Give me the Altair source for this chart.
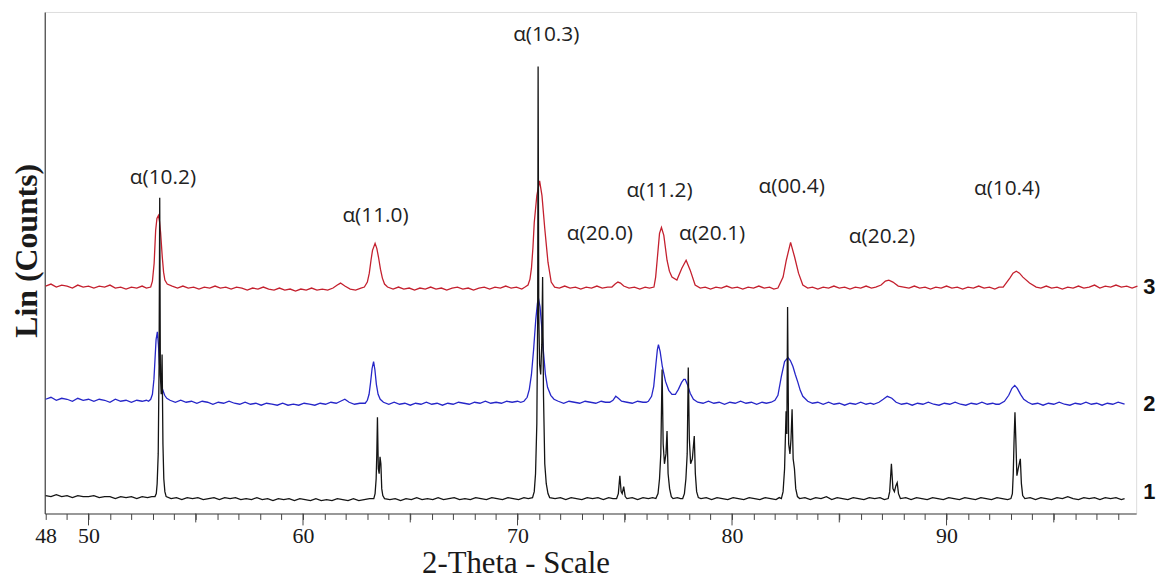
import altair as alt
import pandas as pd

# ---- values: (2-theta, counts in arbitrary units) ----
SAMPLE_1 = [(48.00,18),(48.25,17),(48.50,19),(48.75,17),(49.00,18),(49.25,16),(49.50,18),(49.75,17),(50.00,17),(50.25,18),(50.50,16),(50.75,17),(51.00,17),(51.25,15),(51.50,17),(51.75,16),(52.00,17),(52.25,15),(52.50,17),(52.75,16),(52.95,17),
(53.10,17),(53.16,20),(53.20,30),(53.25,60),(53.29,150),(53.32,318),(53.35,140),(53.39,120),(53.43,160),(53.47,70),(53.51,35),(53.56,22),(53.62,17),
(53.85,15),(54.10,16),(54.35,14),(54.60,16),(54.85,15),(55.10,16),(55.35,14),(55.60,15),(55.85,16),(56.10,14),(56.35,16),(56.60,15),(56.85,16),(57.10,14),(57.35,15),(57.60,14),(57.85,16),(58.10,14),(58.35,15),(58.60,13),(58.85,15),(59.10,14),(59.35,15),(59.60,13),(59.85,15),(60.10,14),(60.35,13),(60.60,15),(60.85,13),(61.10,14),(61.35,13),(61.60,15),(61.85,14),(62.10,13),(62.35,15),(62.60,13),(62.85,14),(63.10,15),
(63.30,15),(63.36,20),(63.41,35),(63.44,60),(63.47,97),(63.51,45),(63.55,40),(63.59,57),(63.63,50),(63.67,25),(63.72,18),(63.80,15),
(64.05,14),(64.30,15),(64.55,13),(64.80,15),(65.05,14),(65.30,16),(65.55,14),(65.80,15),(66.05,14),(66.30,16),(66.55,14),(66.80,15),(67.05,16),(67.30,14),(67.55,15),(67.80,14),(68.05,16),(68.30,15),(68.55,14),(68.80,16),(69.05,15),(69.30,14),(69.55,16),(69.80,15),(70.05,14),(70.30,16),(70.50,15),
(70.70,16),(70.78,22),(70.84,40),(70.90,90),(70.94,200),(70.96,450),(70.99,200),(71.03,150),(71.08,140),(71.13,170),(71.17,238),(71.21,120),(71.27,50),(71.34,30),(71.42,20),(71.50,16),
(71.75,15),(72.00,16),(72.25,14),(72.50,16),(72.75,15),(73.00,14),(73.25,16),(73.50,15),(73.75,16),(74.00,14),(74.25,16),(74.45,15),
(74.62,15),(74.70,20),(74.77,38),(74.83,22),(74.88,20),(74.95,27),(75.02,17),(75.10,15),
(75.35,16),(75.60,14),(75.85,16),(76.10,15),(76.30,16),
(76.45,15),(76.55,20),(76.62,35),(76.68,60),(76.74,145),(76.79,70),(76.85,50),(76.92,60),(76.97,83),(77.02,40),(77.09,25),(77.17,17),(77.25,15),
(77.45,16),(77.60,15),
(77.70,15),(77.78,20),(77.85,35),(77.91,60),(77.96,147),(78.01,75),(78.07,50),(78.15,55),(78.24,78),(78.29,40),(78.35,22),(78.43,16),(78.55,15),
(78.80,16),(79.05,14),(79.30,16),(79.55,15),(79.80,14),(80.05,16),(80.30,15),(80.55,14),(80.80,16),(81.05,15),(81.30,14),(81.55,16),(81.80,15),(82.05,14),(82.20,16),
(82.30,15),(82.38,22),(82.45,45),(82.52,103),(82.555,80),(82.59,208),(82.64,70),(82.70,60),(82.75,75),(82.80,105),(82.85,55),(82.91,45),(82.97,25),(83.05,17),(83.15,15),
(83.40,16),(83.65,14),(83.90,16),(84.15,15),(84.40,17),(84.65,14),(84.90,16),(85.15,15),(85.40,14),(85.65,16),(85.90,15),(86.15,14),(86.40,16),(86.65,15),(86.90,16),(87.10,14),
(87.28,15),(87.35,22),(87.43,50),(87.50,25),(87.57,22),(87.64,28),(87.70,31),(87.76,20),(87.85,15),
(88.10,16),(88.35,14),(88.60,16),(88.85,15),(89.10,14),(89.35,16),(89.60,15),(89.85,14),(90.10,16),(90.35,15),(90.60,14),(90.85,16),(91.10,15),(91.35,14),(91.60,16),(91.85,15),(92.10,14),(92.35,16),(92.60,15),(92.85,14),
(93.00,15),(93.07,20),(93.11,40),(93.15,75),(93.19,102),(93.23,75),(93.28,38),(93.34,45),(93.44,55),(93.49,30),(93.55,18),(93.65,15),
(93.90,16),(94.15,14),(94.40,16),(94.65,15),(94.90,14),(95.15,16),(95.40,15),(95.65,17),(95.90,15),(96.15,14),(96.40,16),(96.65,15),(96.90,16),(97.15,14),(97.40,16),(97.65,15),(97.90,16),(98.15,14),(98.30,15)]

SAMPLE_2 = [(48.00,115),(48.25,117),(48.50,114),(48.75,116),(49.00,115),(49.25,113),(49.50,116),(49.75,114),(50.00,115),(50.25,113),(50.50,115),(50.75,114),(51.00,112),(51.25,115),(51.50,113),(51.75,114),(52.00,112),(52.25,114),(52.50,113),(52.70,114),
(52.80,113),(52.90,115),(52.98,120),(53.05,135),(53.10,155),(53.15,175),(53.21,183),(53.26,170),(53.31,150),(53.37,135),(53.45,125),(53.55,119),(53.65,116),(53.80,114),
(54.05,112),(54.30,114),(54.55,112),(54.80,113),(55.05,111),(55.30,113),(55.55,112),(55.80,110),(56.05,112),(56.30,111),(56.55,113),(56.80,111),(57.05,110),(57.30,112),(57.55,110),(57.80,111),(58.05,109),(58.30,111),(58.55,110),(58.80,109),(59.05,111),(59.30,109),(59.55,110),(59.80,109),(60.05,111),(60.30,110),(60.55,109),(60.80,111),(61.05,110),(61.30,112),(61.55,111),(61.75,113),(61.95,115),(62.15,112),(62.40,110),(62.65,111),
(62.90,111),(63.00,114),(63.08,120),(63.15,132),(63.22,146),(63.29,153),(63.35,145),(63.42,130),(63.50,120),(63.60,115),(63.75,112),
(64.00,110),(64.25,112),(64.50,110),(64.75,111),(65.00,109),(65.25,111),(65.50,110),(65.75,112),(66.00,110),(66.25,111),(66.50,109),(66.75,111),(67.00,110),(67.25,112),(67.50,111),(67.75,110),(68.00,112),(68.25,111),(68.50,113),(68.75,111),(69.00,112),(69.25,111),(69.50,113),(69.75,112),(70.00,113),(70.15,112),
(70.30,113),(70.45,117),(70.55,125),(70.65,140),(70.75,165),(70.85,195),(70.93,212),(70.99,215),(71.05,208),(71.12,190),(71.20,165),(71.30,140),(71.40,127),(71.55,119),(71.70,115),(71.90,113),
(72.15,111),(72.40,113),(72.65,112),(72.90,111),(73.15,113),(73.40,112),(73.65,111),(73.90,113),(74.10,112),
(74.30,112),(74.45,114),(74.58,118),(74.70,116),(74.85,113),
(75.10,112),(75.35,111),(75.60,113),(75.85,112),(76.00,112),
(76.10,113),(76.25,118),(76.35,128),(76.45,150),(76.52,165),(76.57,170),(76.65,163),(76.75,148),(76.90,133),(77.05,124),(77.20,120),(77.36,120),(77.50,125),(77.65,132),(77.75,135),(77.82,135),(77.92,130),(78.05,121),(78.20,115),(78.40,112),
(78.65,111),(78.90,113),(79.15,111),(79.40,112),(79.65,110),(79.90,112),(80.15,111),(80.40,113),(80.65,111),(80.90,112),(81.15,110),(81.40,112),(81.60,111),
(81.83,112),(82.00,114),(82.14,119),(82.30,138),(82.45,153),(82.61,157),(82.72,154),(82.84,148),(82.95,140),(83.07,132),(83.18,124),(83.30,118),(83.53,113),
(83.75,111),(84.00,112),(84.25,110),(84.50,112),(84.75,110),(85.00,111),(85.25,109),(85.50,111),(85.75,110),(86.00,112),(86.25,110),(86.45,111),
(86.60,110),(86.85,112),(87.05,115),(87.24,118),(87.45,116),(87.65,112),(87.90,110),
(88.15,111),(88.40,109),(88.65,111),(88.90,110),(89.15,112),(89.40,110),(89.65,109),(89.90,111),(90.15,110),(90.40,112),(90.65,110),(90.90,109),(91.15,111),(91.40,110),(91.65,112),(91.90,110),(92.15,111),(92.30,110),
(92.45,110),(92.70,113),(92.90,119),(93.05,126),(93.18,129),(93.30,126),(93.45,120),(93.60,115),(93.80,112),(94.00,110),
(94.25,111),(94.50,109),(94.75,111),(95.00,110),(95.25,112),(95.50,110),(95.75,109),(96.00,111),(96.25,110),(96.50,112),(96.75,110),(97.00,111),(97.25,109),(97.50,111),(97.75,110),(98.00,112),(98.30,110)]

SAMPLE_3 = [(48.00,229),(48.25,231),(48.50,228),(48.75,230),(49.00,229),(49.25,227),(49.50,230),(49.75,228),(50.00,229),(50.25,227),(50.50,229),(50.75,228),(51.00,230),(51.25,227),(51.50,228),(51.75,226),(52.00,228),(52.25,227),(52.50,229),(52.70,227),
(52.90,228),(52.98,234),(53.06,252),(53.13,285),(53.19,297),(53.26,300),(53.31,294),(53.36,283),(53.44,258),(53.50,243),(53.56,235),(53.67,231),
(53.90,229),(54.15,227),(54.40,229),(54.65,227),(54.90,228),(55.15,226),(55.40,228),(55.65,227),(55.90,229),(56.15,227),(56.40,228),(56.65,226),(56.90,228),(57.15,227),(57.40,225),(57.65,227),(57.90,226),(58.15,228),(58.40,226),(58.65,225),(58.90,227),(59.15,225),(59.40,226),(59.65,224),(59.90,226),(60.15,225),(60.40,227),(60.65,225),(60.90,226),(61.15,225),(61.40,227),(61.60,230),(61.75,232),(61.95,229),(62.20,226),(62.45,225),(62.70,227),
(62.86,228),(63.00,233),(63.09,242),(63.17,255),(63.24,265),(63.36,272),(63.44,267),(63.52,258),(63.61,246),(63.70,237),(63.80,231),(63.94,228),
(64.20,226),(64.45,228),(64.70,226),(64.95,227),(65.20,225),(65.45,227),(65.70,226),(65.95,228),(66.20,226),(66.45,227),(66.70,225),(66.95,227),(67.20,228),(67.45,226),(67.70,227),(67.95,225),(68.20,227),(68.45,228),(68.70,226),(68.95,228),(69.20,227),(69.45,229),(69.70,227),(69.95,228),(70.20,226),(70.35,228),
(70.49,230),(70.58,236),(70.65,247),(70.72,268),(70.78,293),(70.90,320),(71.03,335),(71.14,320),(71.27,287),(71.42,253),(71.57,233),(71.73,228),
(71.95,227),(72.20,229),(72.45,227),(72.70,228),(72.95,226),(73.20,228),(73.45,227),(73.70,229),(73.95,227),(74.20,228),
(74.40,228),(74.55,231),(74.68,233),(74.80,232),(74.95,229),
(75.20,227),(75.45,228),(75.70,226),(75.95,228),(76.15,227),
(76.36,228),(76.44,238),(76.51,255),(76.62,282),(76.71,288),(76.82,280),(76.97,255),(77.08,244),(77.20,238),(77.43,235),(77.66,247),(77.86,255),(78.05,245),(78.28,230),(78.52,227),
(78.75,228),(79.00,226),(79.25,228),(79.50,227),(79.75,229),(80.00,227),(80.25,228),(80.50,226),(80.75,228),(81.00,227),(81.25,229),(81.50,227),(81.75,228),(81.95,226),
(82.14,227),(82.38,238),(82.53,255),(82.73,273),(82.92,258),(83.10,242),(83.30,230),(83.53,227),
(83.75,228),(84.00,226),(84.25,228),(84.50,227),(84.75,229),(85.00,227),(85.25,228),(85.50,226),(85.75,228),(86.00,227),(86.25,229),(86.50,227),
(86.70,228),(86.95,230),(87.15,234),(87.31,235),(87.50,233),(87.75,229),(88.00,228),
(88.25,227),(88.50,229),(88.75,227),(89.00,228),(89.25,226),(89.50,228),(89.75,227),(90.00,229),(90.25,227),(90.50,228),(90.75,226),(91.00,228),(91.25,227),(91.50,229),(91.75,227),(92.00,228),(92.25,226),(92.45,228),
(92.64,228),(92.95,237),(93.10,242),(93.25,244),(93.40,242),(93.56,238),(93.87,232),(94.18,228),
(94.40,227),(94.65,229),(94.90,227),(95.15,228),(95.40,226),(95.65,228),(95.90,227),(96.15,229),(96.40,227),(96.65,228),(96.90,230),(97.15,227),(97.40,229),(97.65,228),(97.90,230),(98.15,228),(98.40,229),(98.65,227),(98.90,229)]

SAMPLE_NAMES = ["1", "2", "3"]
SAMPLE_COLORS = ["#141414", "#2626c8", "#c4202e"]
SAMPLE_TAG_X = [99.45, 99.45, 99.45]
SAMPLE_TAG_Y = [22, 110, 228]

PEAK_LABELS = ["α(10.2)", "α(11.0)", "α(10.3)", "α(20.0)", "α(11.2)", "α(20.1)", "α(00.4)", "α(20.2)", "α(10.4)"]
PEAK_LABEL_X = [53.47, 63.38, 71.34, 73.84, 76.62, 79.07, 82.78, 86.99, 92.82]
PEAK_LABEL_Y = [338, 299, 482, 281, 325, 281, 329, 278, 327]

LABELLED_TICKS = [48, 50, 60, 70, 80, 90]
MAJOR_TICKS = [50, 60, 70, 80, 90]
MID_TICKS = [55, 65, 75, 85, 95]
MINOR_TICKS = list(range(48, 99))

PLOT_W, PLOT_H = 1099, 505

# ---- tables ----
rows = []
for name, pts in zip(SAMPLE_NAMES, [SAMPLE_1, SAMPLE_2, SAMPLE_3]):
    for t, c in pts:
        rows.append({"sample": name, "theta": t, "counts": c})
curves = pd.DataFrame(rows)

peaks = pd.DataFrame({"theta": PEAK_LABEL_X, "counts": PEAK_LABEL_Y, "label": PEAK_LABELS})
tags = pd.DataFrame({"theta": SAMPLE_TAG_X, "counts": SAMPLE_TAG_Y, "label": SAMPLE_NAMES})
major = pd.DataFrame({"theta": MAJOR_TICKS})
mid = pd.DataFrame({"theta": MID_TICKS})

x_scale = alt.Scale(domain=[47.96, 98.84], nice=False, zero=False)
y_scale = alt.Scale(domain=[0, 505], nice=False, zero=False)

label_expr = "indexof(" + str(LABELLED_TICKS) + ", datum.value) >= 0 ? datum.value : ''"

x_enc = alt.X(
    "theta:Q", scale=x_scale, title="2-Theta - Scale",
    axis=alt.Axis(
        values=MINOR_TICKS, tickSize=6, tickColor="#444444", tickWidth=1,
        domainColor="#444444", domainWidth=1.2, grid=False,
        labelExpr=label_expr, labelFont="Liberation Serif", labelFontSize=22,
        labelColor="#1a1a1a", labelPadding=6, labelFlush=False, labelOverlap=False,
        titleFont="Liberation Serif", titleFontSize=31, titleFontWeight="normal",
        titleColor="#1a1a1a", titleX=474, titleY=59, titleAlign="center",
        titleBaseline="alphabetic",
    ),
)
y_enc = alt.Y(
    "counts:Q", scale=y_scale, title="Lin (Counts)",
    axis=alt.Axis(
        ticks=False, labels=False, grid=False, domainColor="#444444", domainWidth=1.2,
        titleFont="Liberation Serif", titleFontSize=32, titleFontWeight="bold",
        titleColor="#1a1a1a", titleX=-18, titleY=240, titleAngle=270,
        titleAlign="center", titleBaseline="middle",
    ),
)

layers = []
for name, color in [("3", SAMPLE_COLORS[2]), ("2", SAMPLE_COLORS[1]), ("1", SAMPLE_COLORS[0])]:
    layers.append(
        alt.Chart(curves).transform_filter(alt.datum.sample == name)
        .mark_line(color=color, strokeWidth=1.3, interpolate="linear")
        .encode(x=x_enc, y=y_enc, order="theta:Q")
    )

major_ticks = alt.Chart(major).mark_rule(color="#444444", strokeWidth=1).encode(
    x=x_enc, y=alt.value(PLOT_H), y2=alt.value(PLOT_H + 12))
mid_ticks = alt.Chart(mid).mark_rule(color="#444444", strokeWidth=1).encode(
    x=x_enc, y=alt.value(PLOT_H), y2=alt.value(PLOT_H + 9))

peak_text = alt.Chart(peaks).mark_text(
    font="Open Sans", fontSize=21, color="#222222", align="center", baseline="middle"
).encode(x=x_enc, y=y_enc, text="label:N")

tag_text = alt.Chart(tags).mark_text(
    font="Liberation Sans", fontSize=22, fontWeight="bold", color="#111111",
    align="center", baseline="middle"
).encode(x=x_enc, y=y_enc, text="label:N")

chart = alt.layer(*layers, major_ticks, mid_ticks, peak_text, tag_text).properties(
    width=PLOT_W, height=PLOT_H,
    autosize=alt.AutoSizeParams(type="none"),
    padding={"left": 37, "top": 2, "right": 23, "bottom": 65},
).configure_view(stroke=None).configure(background="white")

chart.save("out.html", embed_options={"renderer": "svg", "actions": False})
